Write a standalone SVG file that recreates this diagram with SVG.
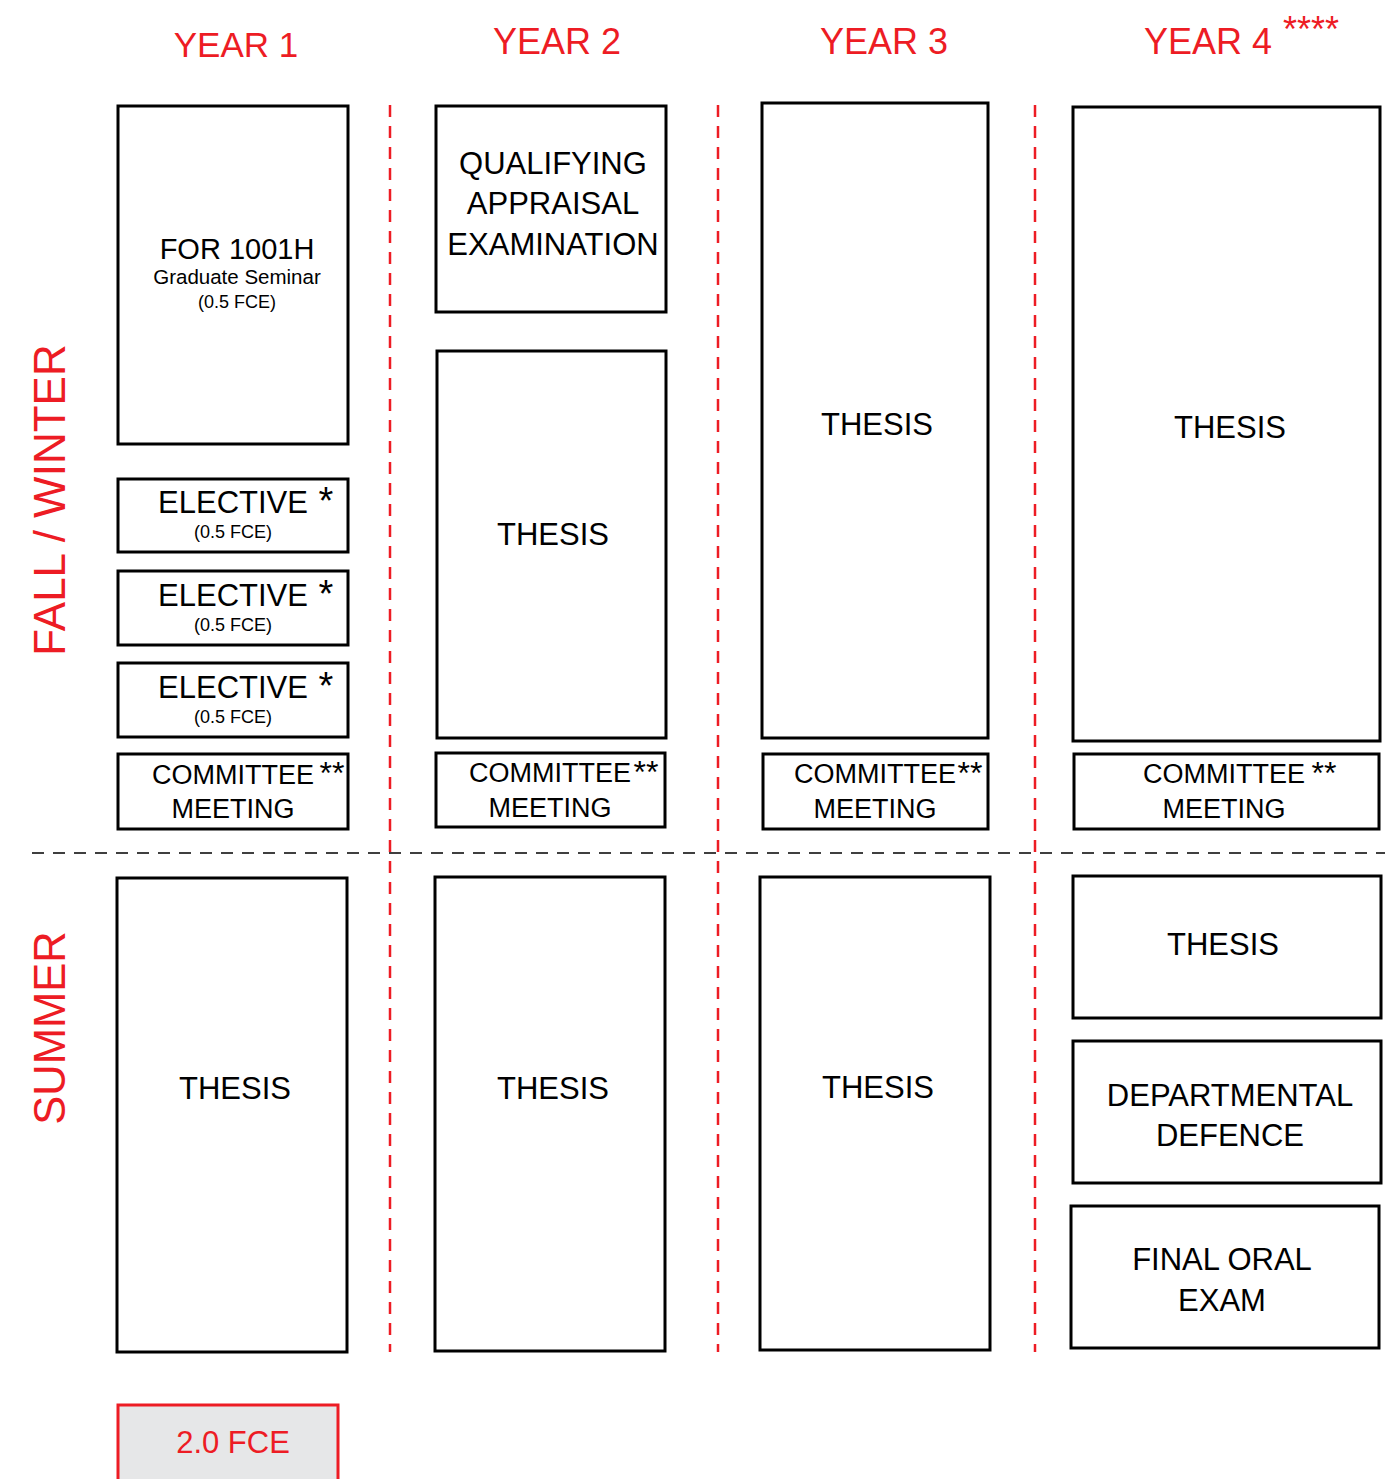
<svg xmlns="http://www.w3.org/2000/svg" width="1398" height="1479" viewBox="0 0 1398 1479">
<style>
.b{fill:#fff;stroke:#000;stroke-width:3}
.t{font-family:"Liberation Sans",Arial,sans-serif;fill:#000;text-anchor:middle}
.l{font-size:31px}
.m{font-size:27px}
.s{font-size:18px}
.a{font-size:38px}
.aa{font-size:32px}
.r{font-family:"Liberation Sans",Arial,sans-serif;fill:#ed1c24;text-anchor:middle}
.vd{stroke:#ed1c24;stroke-width:2.5;stroke-dasharray:12 9;fill:none}
.hd{stroke:#000;stroke-width:1.5;stroke-dasharray:12 9;fill:none}
</style>
<rect width="1398" height="1479" fill="#fff"/>
<g id="headers">
<text class="r" x="236" y="57" font-size="35">YEAR 1</text>
<text class="r" x="557" y="54" font-size="36">YEAR 2</text>
<text class="r" x="884" y="54" font-size="36">YEAR 3</text>
<text class="r" x="1208" y="54" font-size="36">YEAR 4</text>
<text class="r" x="1311" y="42" font-size="36">****</text>
<text class="r" x="0" y="0" font-size="44" transform="translate(65,500) rotate(-90)">FALL / WINTER</text>
<text class="r" x="0" y="0" font-size="43.5" transform="translate(65,1028) rotate(-90)">SUMMER</text>
</g>
<g id="connectors">
<line class="vd" x1="390" y1="105" x2="390" y2="1352"/>
<line class="vd" x1="718" y1="105" x2="718" y2="1352"/>
<line class="vd" x1="1035" y1="105" x2="1035" y2="1352"/>
<line class="hd" x1="32" y1="853" x2="1385" y2="853"/>
</g>
<g id="y1-for1001h"><rect class="b" x="118" y="106" width="230" height="338"/>
<text class="t" x="237" y="259" font-size="29">FOR 1001H</text>
<text class="t" x="237" y="284" font-size="20.5">Graduate Seminar</text>
<text class="t s" x="237" y="308">(0.5 FCE)</text></g>
<g id="y1-elective1"><rect class="b" x="118" y="479" width="230" height="73"/>
<text class="t l" x="233" y="513">ELECTIVE</text><text class="t a" x="326" y="514">*</text>
<text class="t s" x="233" y="538">(0.5 FCE)</text></g>
<g id="y1-elective2"><rect class="b" x="118" y="571" width="230" height="74"/>
<text class="t l" x="233" y="606">ELECTIVE</text><text class="t a" x="326" y="607">*</text>
<text class="t s" x="233" y="631">(0.5 FCE)</text></g>
<g id="y1-elective3"><rect class="b" x="118" y="663" width="230" height="74"/>
<text class="t l" x="233" y="698">ELECTIVE</text><text class="t a" x="326" y="699">*</text>
<text class="t s" x="233" y="723">(0.5 FCE)</text></g>
<g id="y1-committee"><rect class="b" x="118" y="754" width="230" height="75"/>
<text class="t m" x="233" y="784">COMMITTEE</text><text class="t aa" x="332" y="784">**</text>
<text class="t m" x="233" y="818">MEETING</text></g>
<g id="y1-summer"><rect class="b" x="117" y="878" width="230" height="474"/>
<text class="t l" x="235" y="1099">THESIS</text></g>
<g id="y2-qae"><rect class="b" x="436" y="106" width="230" height="206"/>
<text class="t l" x="553" y="174">QUALIFYING</text>
<text class="t l" x="553" y="214">APPRAISAL</text>
<text class="t l" x="553" y="255">EXAMINATION</text></g>
<g id="y2-thesis"><rect class="b" x="437" y="351" width="229" height="387"/>
<text class="t l" x="553" y="545">THESIS</text></g>
<g id="y2-committee"><rect class="b" x="436" y="753" width="229" height="74"/>
<text class="t m" x="550" y="782">COMMITTEE</text><text class="t aa" x="646" y="783">**</text>
<text class="t m" x="550" y="817">MEETING</text></g>
<g id="y2-summer"><rect class="b" x="435" y="877" width="230" height="474"/>
<text class="t l" x="553" y="1099">THESIS</text></g>
<g id="y3-thesis"><rect class="b" x="762" y="103" width="226" height="635"/>
<text class="t l" x="877" y="435">THESIS</text></g>
<g id="y3-committee"><rect class="b" x="763" y="754" width="225" height="75"/>
<text class="t m" x="875" y="783">COMMITTEE</text><text class="t aa" x="970" y="784">**</text>
<text class="t m" x="875" y="818">MEETING</text></g>
<g id="y3-summer"><rect class="b" x="760" y="877" width="230" height="473"/>
<text class="t l" x="878" y="1098">THESIS</text></g>
<g id="y4-thesis"><rect class="b" x="1073" y="107" width="307" height="634"/>
<text class="t l" x="1230" y="438">THESIS</text></g>
<g id="y4-committee"><rect class="b" x="1074" y="754" width="305" height="75"/>
<text class="t m" x="1224" y="783">COMMITTEE</text><text class="t aa" x="1324" y="784">**</text>
<text class="t m" x="1224" y="818">MEETING</text></g>
<g id="y4-summer-thesis"><rect class="b" x="1073" y="876" width="308" height="142"/>
<text class="t l" x="1223" y="955">THESIS</text></g>
<g id="y4-defence"><rect class="b" x="1073" y="1041" width="308" height="142"/>
<text class="t l" x="1230" y="1106">DEPARTMENTAL</text>
<text class="t l" x="1230" y="1146">DEFENCE</text></g>
<g id="y4-final-oral"><rect class="b" x="1071" y="1206" width="308" height="142"/>
<text class="t l" x="1222" y="1270">FINAL ORAL</text>
<text class="t l" x="1222" y="1311">EXAM</text></g>
<g id="total-fce"><rect x="118" y="1405" width="220" height="82" fill="#e6e7e8" stroke="#ed1c24" stroke-width="3"/>
<text class="r" x="233" y="1453" font-size="31">2.0 FCE</text></g>
</svg>
